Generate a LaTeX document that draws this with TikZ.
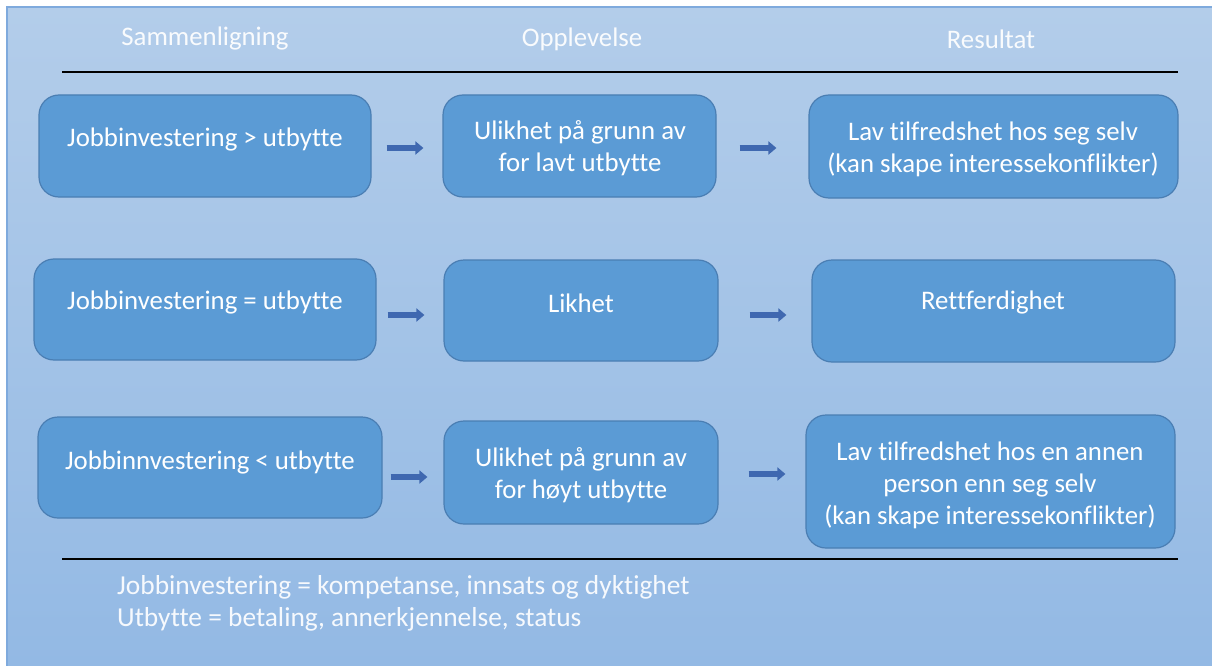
\documentclass[tikz,border=0pt]{standalone}
\usepackage{fontspec}
\setmainfont{Carlito}[Ligatures=CommonOff]
\usetikzlibrary{arrows.meta}

\definecolor{bgtop}{HTML}{B3CDEA}
\definecolor{bgbot}{HTML}{93B9E4}
\definecolor{framecol}{HTML}{7FAADD}
\definecolor{boxfill}{HTML}{5B9BD5}
\definecolor{boxline}{HTML}{4A7EB3}
\definecolor{arrowblue}{HTML}{3F68B0}

\tikzset{
  stage/.style={draw=boxline, line width=1.2pt, fill=boxfill,
    rounded corners=20pt, inner sep=0pt},
  boxtext/.style={text=white, font=\fontsize{26.8}{32}\selectfont,
    align=center, inner sep=0pt},
  headtext/.style={text=white!92!bgtop, font=\fontsize{26.8}{32}\selectfont,
    inner sep=0pt},
  notetext/.style={text=white!92!bgbot, font=\fontsize{27.4}{33}\selectfont,
    align=left, inner sep=0pt, anchor=west},
  flow/.style={arrowblue, line width=6pt,
    -{Triangle[length=8pt,width=13pt]}},
  rulerline/.style={black, line width=1.6pt}
}

\begin{document}
\begin{tikzpicture}[x=1pt,y=-1pt]
  \useasboundingbox (0,0) rectangle (1212,666);
  \fill[white] (0,0) rectangle (1212,666);

  % panel background with its frame
  \fill[top color=bgtop, bottom color=bgbot] (7,7) rectangle (1212,666);
  \draw[framecol, line width=2pt] (7,666) -- (7,7) -- (1212,7);

  % column headings
  \node[headtext] (h1) at (205,39) {Sammenligning};
  \node[headtext] (h2) at (582,39) {Opplevelse};
  \node[headtext] (h3) at (991,39) {Resultat};

  % horizontal rules
  \coordinate (t1) at (62,72);   \coordinate (t2) at (1178,72);
  \coordinate (b1) at (62,559);  \coordinate (b2) at (1178,559);
  \draw[rulerline] (t1) -- (t2);
  \draw[rulerline] (b1) -- (b2);

  % boxes
  \node[stage, minimum width=332pt, minimum height=102pt] (A1) at (205,146) {};
  \node[stage, minimum width=273pt, minimum height=102pt] (B1) at (579.5,146) {};
  \node[stage, minimum width=369pt, minimum height=103pt] (C1) at (993.5,146.5) {};

  \node[stage, minimum width=342pt, minimum height=101pt] (A2) at (205,309.5) {};
  \node[stage, minimum width=274pt, minimum height=101pt] (B2) at (581,310.5) {};
  \node[stage, minimum width=363pt, minimum height=102pt] (C2) at (993.5,311) {};

  \node[stage, minimum width=344pt, minimum height=101pt] (A3) at (210,467.5) {};
  \node[stage, minimum width=274pt, minimum height=103pt] (B3) at (581,472.5) {};
  \node[stage, minimum width=369pt, minimum height=133pt] (C3) at (990.5,481.5) {};

  % box texts
  \node[boxtext] (tA1) at (205,139) {Jobbinvestering > utbytte};
  \node[boxtext] (tB1) at (580,148) {Ulikhet på grunn av\\for lavt utbytte};
  \node[boxtext] (tC1) at (993,149) {Lav tilfredshet hos seg selv\\(kan skape interessekonflikter)};

  \node[boxtext] (tA2) at (205,302) {Jobbinvestering = utbytte};
  \node[boxtext] (tB2) at (581,303) {Likhet};
  \node[boxtext] (tC2) at (993,302) {Rettferdighet};

  \node[boxtext] (tA3) at (210,462) {Jobbinnvestering < utbytte};
  \node[boxtext] (tB3) at (581,475) {Ulikhet på grunn av\\for høyt utbytte};
  \node[boxtext] (tC3) at (990,485) {Lav tilfredshet hos en annen\\person enn seg selv\\(kan skape interessekonflikter)};

  % arrows between the stages
  \draw[flow] ([xshift=15pt,yshift=-2pt]A1.east) -- ([xshift=-19pt,yshift=-2pt]B1.west);
  \draw[flow] ([xshift=23pt,yshift=-2pt]B1.east) -- ([xshift=-32pt,yshift=-1.5pt]C1.west);
  \draw[flow] ([xshift=11pt,yshift=-5.5pt]A2.east) -- ([xshift=-19pt,yshift=-4.5pt]B2.west);
  \draw[flow] ([xshift=31pt,yshift=-4.5pt]B2.east) -- ([xshift=-25pt,yshift=-4pt]C2.west);
  \draw[flow] ([xshift=8pt,yshift=-9.5pt]A3.east) -- ([xshift=-16pt,yshift=-4.5pt]B3.west);
  \draw[flow] ([xshift=30pt,yshift=-1.5pt]B3.east) -- ([xshift=-20pt,yshift=7.5pt]C3.west);

  % definitions below the lower rule
  \node[notetext] (n1) at (117,587) {Jobbinvestering = kompetanse, innsats og dyktighet};
  \node[notetext] (n2) at (117,619) {Utbytte = betaling, annerkjennelse, status};
\end{tikzpicture}
\end{document}
